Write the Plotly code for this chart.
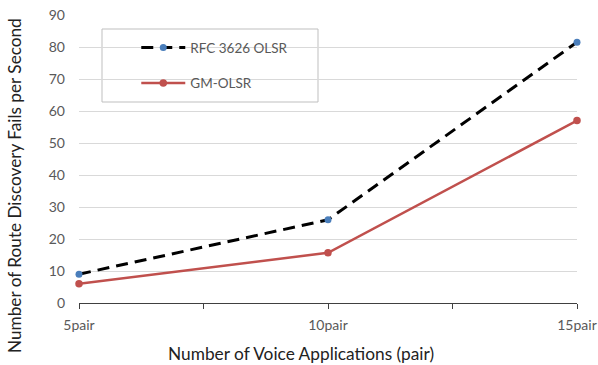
import plotly.graph_objects as go

categories = ["5pair", "10pair", "15pair"]
rfc_values = [9, 26, 81.5]
gm_values = [6, 15.7, 57]
series_names = ["RFC 3626 OLSR", "GM-OLSR"]
x_title = "Number of Voice Applications (pair)"
y_title = "Number of Route Discovery Fails per Second"

xpos = list(range(len(categories)))

fig = go.Figure()
fig.add_trace(go.Scatter(
    x=xpos, y=rfc_values, name=series_names[0], mode="lines+markers",
    line=dict(color="black", width=3, dash="12px,7px"),
    marker=dict(color="#4A7EBB", size=7),
    legendgroup="a", cliponaxis=False,
))
fig.add_trace(go.Scatter(
    x=xpos, y=gm_values, name=series_names[1], mode="lines+markers",
    line=dict(color="#C0504D", width=2.5),
    marker=dict(color="#C0504D", size=7.5),
    legendgroup="b", cliponaxis=False,
))

font_family = "Lato, Open Sans, sans-serif"

fig.update_layout(
    width=598, height=365,
    margin=dict(l=79, r=21, t=15, b=62),
    paper_bgcolor="white", plot_bgcolor="white",
    font=dict(family=font_family, color="#595959", size=13),
    showlegend=True,
    legend=dict(
        x=0.115, y=0.94, xanchor="left", yanchor="top",
        bgcolor="rgba(0,0,0,0)", borderwidth=0,
        font=dict(size=13.5, color="#595959"),
        tracegroupgap=15, traceorder="grouped", itemwidth=44,
    ),
    xaxis=dict(
        range=[0, 2], automargin=False,
        tickmode="array", tickvals=xpos, ticktext=categories,
        showgrid=False, zeroline=False,
        showline=True, linecolor="#404040", linewidth=1,
        ticks="outside", ticklen=5, tickcolor="#404040",
        minor=dict(dtick=0.5, tick0=0, ticks="outside", ticklen=5, tickcolor="#404040", showgrid=False),
        tickfont=dict(size=14, color="#595959"),
        ticklabelstandoff=4, ticklabeloverflow="allow",
    ),
    yaxis=dict(
        range=[0, 90], dtick=10, automargin=False,
        showgrid=True, gridcolor="#D9D9D9", gridwidth=1,
        zeroline=False, showline=False,
        tickfont=dict(size=14, color="#595959"),
        ticklabelstandoff=13,
    ),
    annotations=[
        dict(text=x_title, xref="paper", yref="paper",
             x=(301 - 79) / 498, y=(303 - 353) / 288, xanchor="center", yanchor="middle",
             showarrow=False, font=dict(size=17.3, color="#222222")),
        dict(text=y_title, xref="paper", yref="paper", textangle=-90,
             x=(14 - 79) / 498, y=(303 - 186) / 288, xanchor="center", yanchor="middle",
             showarrow=False, font=dict(size=17.2, color="#222222")),
    ],
    shapes=[dict(
        type="rect", xref="paper", yref="paper",
        x0=(102 - 79) / 498, x1=(318 - 79) / 498,
        y0=(303 - 102) / 288, y1=(303 - 29) / 288,
        line=dict(color="#BFBFBF", width=1), fillcolor="rgba(0,0,0,0)", layer="below",
    )],
)

fig.write_html("out.html")
